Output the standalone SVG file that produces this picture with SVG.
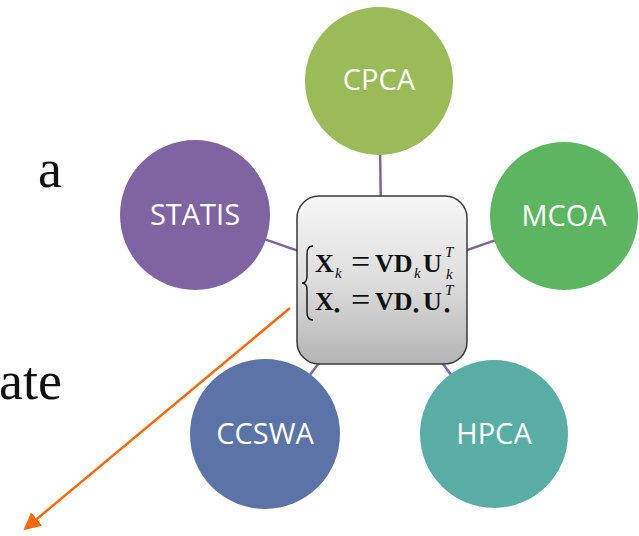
<svg xmlns="http://www.w3.org/2000/svg" width="639" height="536" viewBox="0 0 639 536">
  <defs>
    <linearGradient id="boxFill" x1="0" y1="0" x2="0" y2="1">
      <stop offset="0" stop-color="#f7f7f7"/>
      <stop offset="0.5" stop-color="#dedede"/>
      <stop offset="1" stop-color="#b4b4b4"/>
    </linearGradient>
    <marker id="arrowHead" viewBox="0 0 10 10" refX="8" refY="5" markerWidth="7" markerHeight="7" orient="auto" markerUnits="strokeWidth">
      <path d="M0,0 L10,5 L0,10 z" fill="#f96a0c"/>
    </marker>
    <style>
      .spoke { stroke: #8064a2; stroke-width: 2.5; fill: none; }
      .node-label { font-family: "Open Sans", "Liberation Sans", sans-serif; font-size: 29px; fill: #ffffff; text-anchor: middle; }
      .serif-text { font-family: "Liberation Serif", "DejaVu Serif", serif; font-size: 54px; fill: #111111; }
      .math { font-family: "Liberation Serif", "DejaVu Serif", serif; font-weight: bold; font-size: 26px; fill: #111111; }
      .eq { font-family: "Liberation Serif", "DejaVu Serif", serif; font-size: 34px; fill: #111111; }
      .math-it { font-family: "Liberation Serif", "DejaVu Serif", serif; font-style: italic; font-size: 15px; fill: #111111; }
      .dot { font-family: "Liberation Serif", "DejaVu Serif", serif; font-weight: bold; font-size: 17px; fill: #111111; }
    </style>
  </defs>

  <rect width="639" height="536" fill="#ffffff"/>

  <!-- partial body text at the left margin -->
  <text class="serif-text" x="62" y="187" text-anchor="end">a</text>
  <text class="serif-text" x="62" y="399" text-anchor="end">ate</text>

  <!-- spokes from the centre box to each method -->
  <g id="connectors">
    <line class="spoke" x1="382" y1="280" x2="379" y2="81"/>
    <line class="spoke" x1="382" y1="280" x2="195" y2="215"/>
    <line class="spoke" x1="382" y1="280" x2="564" y2="216"/>
    <line class="spoke" x1="382" y1="280" x2="265" y2="434"/>
    <line class="spoke" x1="382" y1="280" x2="494" y2="434"/>
  </g>

  <g id="node-cpca">
    <circle cx="379" cy="81" r="74" fill="#9bbb59"/>
    <text class="node-label" x="379" y="90">CPCA</text>
  </g>
  <g id="node-statis">
    <circle cx="195" cy="215" r="75" fill="#8064a2"/>
    <text class="node-label" x="195" y="225">STATIS</text>
  </g>
  <g id="node-mcoa">
    <circle cx="564" cy="216" r="74" fill="#5db562"/>
    <text class="node-label" x="564" y="226">MCOA</text>
  </g>
  <g id="node-ccswa">
    <circle cx="265" cy="434" r="75" fill="#5b73a6"/>
    <text class="node-label" x="265" y="444">CCSWA</text>
  </g>
  <g id="node-hpca">
    <circle cx="494" cy="434" r="74" fill="#5aada5"/>
    <text class="node-label" x="494" y="444">HPCA</text>
  </g>

  <!-- central box with the decomposition -->
  <g id="node-center">
    <rect x="297" y="196" width="170" height="168" rx="22" ry="22" fill="url(#boxFill)" stroke="#3a3a3a" stroke-width="1.5"/>
    <path d="M313,246 Q307,246 307,254 L307,276 Q307,283 302,283 Q307,283 307,290 L307,312 Q307,320 313,320" fill="none" stroke="#111111" stroke-width="1.4"/>
    <text class="math" x="315" y="272">X</text>
    <text class="math-it" x="335" y="278">k</text>
    <text class="eq" x="351" y="273">=</text>
    <text class="math" x="375" y="272">VD</text>
    <text class="math-it" x="414" y="278">k</text>
    <text class="math" x="423" y="272">U</text>
    <text class="math-it" x="445" y="257">T</text>
    <text class="math-it" x="446" y="279">k</text>

    <text class="math" x="315" y="310">X</text>
    <text class="dot" x="334" y="316">•</text>
    <text class="eq" x="351" y="311">=</text>
    <text class="math" x="375" y="310">VD</text>
    <text class="dot" x="413" y="316">•</text>
    <text class="math" x="423" y="310">U</text>
    <text class="math-it" x="445" y="295">T</text>
    <text class="dot" x="444" y="316">•</text>
  </g>

  <!-- orange pointer -->
  <g id="pointer">
    <line x1="290" y1="308" x2="26" y2="528" stroke="#f96a0c" stroke-width="2.5" marker-end="url(#arrowHead)"/>
  </g>
</svg>
